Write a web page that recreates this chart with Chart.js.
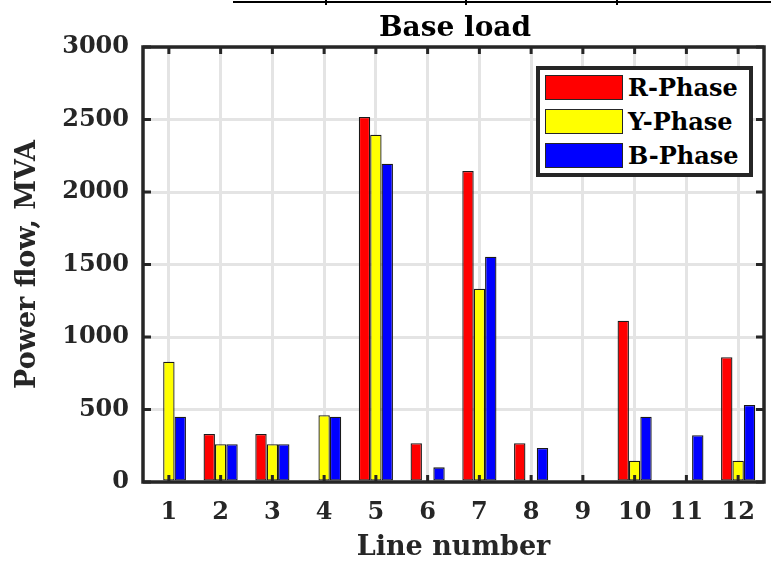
<!DOCTYPE html>
<html>
<head>
<meta charset="utf-8">
<script src="https://cdn.jsdelivr.net/npm/chart.js@4/dist/chart.umd.min.js"></script>
<style>
  body { margin: 0; background: #fff; }
  #wrap { position: relative; width: 771px; height: 561px; }
  #topRule { position: absolute; left: 233px; top: 1px; width: 538px; height: 2px; background: #000; }
  .tab { position: absolute; top: 0; width: 2px; height: 5px; background: #000; }
  #title {
    position: absolute; left: 143px; top: 13px; width: 624px; text-align: center;
    font-family: "DejaVu Serif", serif; font-weight: bold; font-size: 28px; line-height: 28px; color: #000;
  }
  #legend {
    position: absolute; left: 536px; top: 66px; width: 217px; height: 111px;
    box-sizing: border-box; border: 4px solid #262626; background: #fff;
    font-family: "DejaVu Serif", serif; font-weight: bold; font-size: 24px; color: #000;
  }
  .item { position: absolute; left: 5px; height: 25px; display: flex; align-items: center; }
  .swatch { width: 78px; height: 25px; box-sizing: border-box; border: 1px solid #262626; }
  .item span { margin-left: 5px; line-height: 25px; }
</style>
</head>
<body>
<div id="wrap">
  <canvas id="chart"></canvas>
  <div id="topRule"></div>
  <div class="tab" style="left:325px"></div>
  <div class="tab" style="left:465px"></div>
  <div class="tab" style="left:616px"></div>
  <div id="title">Base load</div>
  <div id="legend"></div>
</div>
<script>
// Line numbers on the x axis
const lineNumbers = ['1', '2', '3', '4', '5', '6', '7', '8', '9', '10', '11', '12'];

// Power flow per phase, MVA
const rPhase = [0, 331, 331, 0, 2517, 267, 2145, 267, 0, 1112, 0, 860];
const yPhase = [830, 260, 260, 460, 2395, 0, 1333, 0, 0, 147, 0, 147];
const bPhase = [450, 260, 260, 450, 2195, 101, 1554, 234, 0, 450, 322, 531];

const seriesNames = ['R-Phase', 'Y-Phase', 'B-Phase'];
const seriesColors = ['#ff0000', '#ffff00', '#0000ff'];

const fontFamily = '"DejaVu Serif", serif';
const axisColor = '#262626';

// MATLAB style box with inward ticks on all four sides
const boxPlugin = {
    id: 'boxPlugin',
    afterDatasetsDraw(chart) {
        const { ctx, chartArea: a, scales: { x, y } } = chart;
        ctx.save();
        ctx.strokeStyle = axisColor;
        ctx.lineWidth = 3;
        ctx.beginPath();
        x.ticks.forEach((t, i) => {
            const px = x.getPixelForTick(i);
            ctx.moveTo(px, a.bottom); ctx.lineTo(px, a.bottom - 7);
            ctx.moveTo(px, a.top); ctx.lineTo(px, a.top + 7);
        });
        y.ticks.forEach((t, i) => {
            const py = y.getPixelForTick(i);
            ctx.moveTo(a.left, py); ctx.lineTo(a.left + 8, py);
            ctx.moveTo(a.right, py); ctx.lineTo(a.right - 8, py);
        });
        ctx.stroke();
        ctx.lineWidth = 3.5;
        ctx.strokeRect(a.left, a.top, a.right - a.left, a.bottom - a.top);
        ctx.restore();
    }
};

const datasets = [rPhase, yPhase, bPhase].map((vals, i) => ({
    label: seriesNames[i],
    data: vals,
    backgroundColor: seriesColors[i],
    borderColor: '#1a1a1a',
    borderWidth: 1.3,
    borderSkipped: false,
    categoryPercentage: 0.66,
    barPercentage: 1.0
}));

new Chart(document.getElementById('chart'), {
    type: 'bar',
    data: { labels: lineNumbers, datasets: datasets },
    options: {
        responsive: true,
        maintainAspectRatio: false,
        animation: false,
        layout: { padding: { left: 0, right: 4, top: 47, bottom: 0 } },
        plugins: {
            legend: { display: false },
            tooltip: { enabled: false },
            title: { display: false }
        },
        scales: {
            x: {
                offset: true,
                grid: { offset: false, color: '#e4e4e4', lineWidth: 3, drawTicks: false },
                border: { display: false },
                ticks: {
                    color: axisColor,
                    padding: 16,
                    maxRotation: 0,
                    autoSkip: false,
                    font: { family: fontFamily, size: 24, weight: 'bold' }
                },
                title: {
                    display: true,
                    text: 'Line number',
                    color: axisColor,
                    font: { family: fontFamily, size: 27, weight: 'bold', lineHeight: 1 },
                    padding: { top: 0, bottom: 0 }
                },
                afterFit(scale) { scale.height = 79; }
            },
            y: {
                min: 0,
                max: 3000,
                grid: { color: '#e4e4e4', lineWidth: 3, drawTicks: false },
                border: { display: false },
                ticks: {
                    stepSize: 500,
                    color: axisColor,
                    padding: 14,
                    font: { family: fontFamily, size: 24, weight: 'bold' },
                    callback: (v) => String(v)
                },
                title: {
                    display: true,
                    text: 'Power flow, MVA',
                    color: axisColor,
                    font: { family: fontFamily, size: 27, weight: 'bold', lineHeight: 1 },
                    padding: { top: 14, bottom: 0 }
                },
                afterFit(scale) { scale.width = 143; }
            }
        }
    },
    plugins: [boxPlugin]
});

// legend inside the plot, top right
const legend = document.getElementById('legend');
seriesNames.forEach((name, i) => {
    const row = document.createElement('div');
    row.className = 'item';
    row.style.top = (5 + i * 34) + 'px';
    const sw = document.createElement('div');
    sw.className = 'swatch';
    sw.style.background = seriesColors[i];
    const txt = document.createElement('span');
    txt.textContent = name;
    row.appendChild(sw);
    row.appendChild(txt);
    legend.appendChild(row);
});
</script>
</body>
</html>
